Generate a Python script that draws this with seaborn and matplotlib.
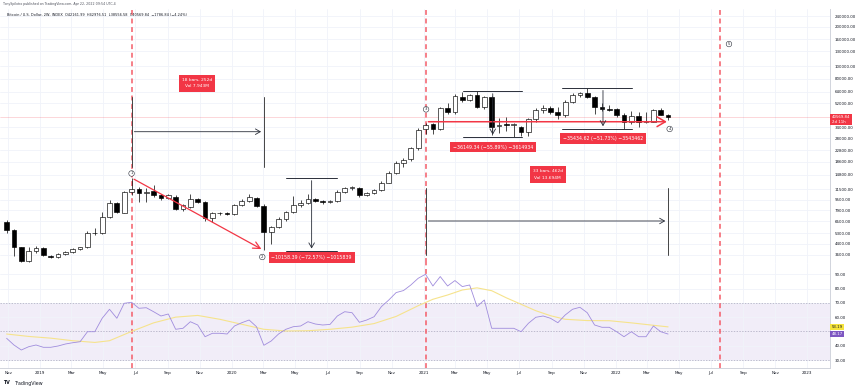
import matplotlib
matplotlib.use('Agg')
import matplotlib.pyplot as plt
import matplotlib.dates as mdates
from matplotlib.ticker import FixedLocator, NullLocator
import pandas as pd
import seaborn as sns

# 2W candles of INDEX BTCUSD
bar_start = '2018-10-29'
opens = [6470, 5590, 4121, 3257, 3860, 4050, 3540, 3470, 3660, 3810,
         3980, 4160, 5273, 5300, 7063, 8946, 7580, 10972, 11506, 10667,
         11200, 10350, 9770, 10047, 8089, 8425, 9598, 9152, 6873, 7503,
         7580, 7400, 8679, 9300, 9770, 8500, 5425, 5862, 6750, 7716,
         8679, 8946, 9598, 9250, 9150, 9300, 10972, 11650, 11650, 10350,
         10800, 11300, 12860, 15330, 18300, 19410, 23560, 32900, 35900, 32900,
         48130, 44960, 58600, 55600, 60200, 48960, 57800, 34700, 35700, 35500,
         34450, 31550, 39250, 46218, 48130, 44900, 42324, 53540, 60185, 61900,
         58400, 48960, 47000, 47000, 42700, 37600, 41500, 37100, 37600, 46218,
         42161.99]
highs = [6650, 5650, 4170, 4121, 4200, 4150, 3600, 3700, 3880, 4100,
         4150, 5490, 5760, 7716, 9478, 9100, 11200, 13998, 11900, 11700,
         12343, 10500, 10600, 10300, 8800, 10480, 9800, 9300, 7716, 7700,
         7700, 8800, 9600, 10480, 10000, 8800, 6000, 7000, 7800, 10150,
         9400, 10480, 9800, 9400, 9500, 11300, 12000, 12100, 12000, 11000,
         11500, 13200, 15800, 18900, 19900, 24200, 33500, 37000, 37000, 49000,
         52000, 61000, 63600, 61500, 64679, 59500, 59500, 40000, 41000, 36500,
         35000, 40500, 48000, 50500, 50000, 48800, 55000, 62900, 64000, 68497,
         59000, 51900, 50471, 47900, 44000, 45500, 44500, 45000, 46800, 48200,
         42976.51]
lows = [5270, 3537, 3180, 3200, 3750, 3550, 3420, 3400, 3620, 3760,
        3900, 4100, 5120, 5200, 6900, 7500, 7500, 10300, 9084, 9084,
        10000, 9500, 9600, 7900, 7800, 8300, 9000, 6500, 6450, 7300,
        7250, 7300, 8500, 9100, 8400, 3900, 4400, 5800, 6600, 7600,
        8400, 8800, 9200, 8900, 9000, 9100, 10700, 11300, 10000, 10200,
        10600, 11200, 12800, 15100, 16900, 19000, 23000, 30500, 30500, 32300,
        43000, 43000, 53000, 54000, 47500, 47000, 30000, 31000, 32000, 28530,
        29300, 29500, 37500, 44000, 42900, 39600, 41000, 52000, 58000, 57000,
        43000, 45600, 45500, 41000, 33064, 36300, 34300, 37000, 37200, 42000,
        38556.58]
closes = [5590, 4166, 3257, 3883, 4095, 3600, 3470, 3660, 3810, 3980,
          4120, 5273, 5300, 7063, 8946, 7716, 10972, 11506, 10667, 10972,
          10350, 9770, 10350, 8089, 8679, 9598, 9152, 6873, 7503, 7580,
          7400, 8679, 9364, 9942, 8575, 5425, 5862, 6750, 7716, 8679,
          8946, 9598, 9364, 9100, 9300, 10972, 11650, 11900, 10350, 10800,
          11300, 12860, 15330, 18300, 19167, 23560, 32502, 35492, 32900, 48130,
          44960, 59400, 55500, 60200, 48960, 58400, 34450, 35600, 35500, 35900,
          31550, 39250, 46218, 48130, 44960, 42324, 53540, 60185, 62700, 58400,
          48960, 47000, 46300, 42700, 37600, 41500, 37100, 37800, 46218, 42324,
          40569.84]

# RSI(14) per bar and its moving average (read at a subset of bars)
rsi = [45.2, 40.5, 37.0, 39.3, 40.5, 38.9, 38.9, 39.8, 41.2, 42.1,
       42.8, 49.8, 49.8, 59.2, 65.5, 59.2, 69.7, 70.4, 66.2, 66.6,
       63.8, 60.8, 62.2, 51.5, 52.2, 56.8, 54.5, 46.3, 48.7, 48.7,
       48.2, 53.8, 56.1, 58.0, 53.3, 40.3, 43.3, 48.2, 51.5, 53.3,
       53.8, 56.8, 55.2, 54.5, 54.9, 60.8, 63.8, 63.1, 56.4, 58.0,
       60.3, 67.4, 72.0, 77.2, 78.6, 82.5, 87.2, 90.0, 81.8, 88.4,
       81.8, 85.6, 81.4, 82.5, 67.4, 72.0, 52.2, 52.2, 52.2, 52.2,
       49.8, 55.7, 59.9, 60.8, 59.2, 56.1, 61.5, 65.5, 66.9, 63.1,
       54.5, 52.9, 52.9, 49.8, 46.3, 49.8, 46.3, 46.3, 53.8, 49.8,
       48.17]
ma_bars = [0, 3, 6, 9, 12, 14, 17, 20, 23, 26, 29, 32, 35, 38, 41, 44, 47, 50,
           53, 56, 58, 60, 62, 64, 66, 68, 70, 72, 74, 76, 79, 82, 85, 88, 90]
ma_vals = [48.2, 46.5, 45.3, 43.5, 42.3, 43.5, 50.0, 56.0, 60.0, 61.2, 58.5, 55.0,
           51.5, 50.3, 50.5, 51.5, 53.0, 55.5, 60.5, 68.0, 72.5, 75.5, 79.0, 80.5,
           78.5, 73.5, 69.0, 64.5, 61.0, 58.5, 57.6, 57.5, 56.0, 54.3, 53.19]

price_ticks = [240000, 200000, 160000, 130000, 100000, 80000, 64000, 52000,
               34000, 28000, 22800, 18600, 14800, 11500, 9500, 7900, 6500,
               5300, 4400, 3600]
rsi_ticks = [30, 40, 60, 70, 80, 90]
cycle_dates = ['2019-06-24', '2021-01-04', '2022-07-18']

sns.set_style('white')
plt.rcParams['font.family'] = ['DejaVu Sans']

red = '#F23645'
dark = '#2A2E39'
grid_c = '#F0F3FA'


def d(s):
    return mdates.datestr2num(s)


dates = pd.date_range(bar_start, periods=len(closes), freq='14D')
xd = mdates.date2num(dates)

fig = plt.figure(figsize=(8.6, 3.91), dpi=100)
ax = fig.add_axes([0, 0.3274, 0.9651, 0.6496])
ax2 = fig.add_axes([0, 0.0588, 0.9651, 0.2686], sharex=ax)

# ---- candles
body_lo = [min(o, c) for o, c in zip(opens, closes)]
body_h = [max(abs(c - o), 0.012 * min(o, c)) for o, c in zip(opens, closes)]
faces = ['white' if c >= o else 'black' for o, c in zip(opens, closes)]
ax.vlines(xd, lows, highs, color='black', lw=0.5, zorder=3)
ax.bar(xd, body_h, bottom=body_lo, width=9, color=faces, edgecolor='black',
       linewidth=0.45, zorder=4)

ax.set_yscale('log')
ax.set_ylim(3127, 273700)
x0 = d('2019-01-01')
ax.set_xlim(x0 - 76.6, x0 + 1504.4)

ax.yaxis.tick_right()
ax.yaxis.set_major_locator(FixedLocator(price_ticks))
ax.yaxis.set_minor_locator(NullLocator())
ax.set_yticklabels(['%.2f' % t for t in price_ticks])
ax.tick_params(axis='y', which='both', length=0, pad=3.5, labelsize=2.9,
               labelcolor='#131722')
ax.tick_params(axis='x', length=0, labelbottom=False)
ax.grid(True, color=grid_c, lw=0.6)
ax.set_axisbelow(True)

# time ticks every two months
months = pd.date_range('2018-11-01', '2023-01-01', freq='2MS')
tick_lbls = [str(m.year) if m.month == 1 else m.strftime('%b') for m in months]
ax2.set_xticks(mdates.date2num(months))
ax2.set_xticklabels(tick_lbls)
ax2.tick_params(axis='x', length=0, pad=2.5, labelsize=3, labelcolor='#131722')

for a in (ax, ax2):
    for s in ('top', 'left'):
        a.spines[s].set_visible(False)
    for s in ('right', 'bottom'):
        a.spines[s].set_color('#D1D4DC')
        a.spines[s].set_linewidth(0.7)

# cycle markers
for cyc in cycle_dates:
    for a in (ax, ax2):
        a.axvline(d(cyc), color='#F45C68', lw=1.1, ls=(0, (3.2, 2.4)), zorder=2)

# current price line + label
ax.axhline(closes[-1], color=red, lw=0.4, alpha=0.35, zorder=1)
ax.annotate('%.2f\n2d 11h' % closes[-1], xy=(1.0, closes[-1]),
            xycoords=('axes fraction', 'data'), xytext=(1.2, -1.6),
            textcoords='offset points', ha='left', va='center', fontsize=2.8,
            color='white', linespacing=1.3,
            bbox=dict(boxstyle='square,pad=0.35', fc=red, ec='none'))

# red trend arrow 1 -> 2
ax.annotate('', xy=(d('2020-03-02'), 3900), xytext=(d('2019-06-24'), 13998),
            arrowprops=dict(arrowstyle='->,head_length=0.5,head_width=0.25',
                            color=red, lw=0.9), zorder=5)
# red support line 3 -> 4
ax.annotate('', xy=(d('2022-04-14'), 37600), xytext=(d('2021-01-04'), 37600),
            arrowprops=dict(arrowstyle='->,head_length=0.6,head_width=0.35',
                            color=red, lw=1.1), zorder=5)

# price range tools
ranges = [
    ('2020-04-13', '2020-07-19', '2020-06-01', 13998, 3840, 3445,
     '\u221210158.39 (\u221272.57%) \u22121015839'),
    ('2021-03-17', '2021-07-06', '2021-05-12', 64679, 28530, 24090,
     '\u221236149.34 (\u221255.89%) \u22123614934'),
    ('2021-09-21', '2022-02-02', '2021-12-08', 68497, 33064, 27900,
     '\u221235434.62 (\u221251.73%) \u22123543462'),
]
for a0, a1, am, top, bot, ly, txt in ranges:
    ax.plot([d(a0), d(a1)], [top, top], color=dark, lw=0.7, zorder=5)
    ax.plot([d(a0), d(a1)], [bot, bot], color=dark, lw=0.7, zorder=5)
    ax.annotate('', xy=(d(am), bot), xytext=(d(am), top),
                arrowprops=dict(arrowstyle='->,head_length=0.35,head_width=0.2',
                                color=dark, lw=0.6), zorder=5)
    ax.text(d(am), ly, txt, ha='center', va='center', fontsize=3.4,
            color='white', zorder=6,
            bbox=dict(boxstyle='square,pad=0.6', fc=red, ec='none'))

# date range tools
dranges = [
    ('2019-06-24', '2020-03-02', 31550, 16950, 58400, '2019-10-27', 73800,
     '18 bars, 252d\nVol 7.943M'),
    ('2021-01-04', '2022-04-11', 6550, 3600, 11650, '2021-08-25', 14850,
     '33 bars, 462d\nVol 13.694M'),
]
for a0, a1, yy, vlo, vhi, lx, ly, txt in dranges:
    ax.plot([d(a0), d(a0)], [vlo, vhi], color='#444', lw=0.7, zorder=5)
    ax.plot([d(a1), d(a1)], [vlo, vhi], color='#444', lw=0.7, zorder=5)
    ax.annotate('', xy=(d(a1), yy), xytext=(d(a0), yy),
                arrowprops=dict(arrowstyle='->,head_length=0.35,head_width=0.2',
                                color=dark, lw=0.6), zorder=5)
    ax.text(d(lx), ly, txt, ha='center', va='center', fontsize=3.2,
            color='white', linespacing=1.7, zorder=6,
            bbox=dict(boxstyle='square,pad=0.7', fc=red, ec='none'))

# circled wave numbers
for num, ds, py in [('1', '2019-06-24', 15120), ('2', '2020-02-28', 3475),
                    ('3', '2021-01-05', 46760), ('4', '2022-04-14', 33100),
                    ('5', '2022-08-05', 147700)]:
    ax.text(d(ds), py, num, ha='center', va='center', fontsize=2.8,
            color=dark, zorder=7,
            bbox=dict(boxstyle='circle,pad=0.2', fc='white', ec=dark, lw=0.4))

# ---- RSI panel
ax2.axhspan(30, 70, color='#7E57C2', alpha=0.1, lw=0, zorder=0)
for lv in (30, 50, 70):
    ax2.axhline(lv, color='#A9A6BC', lw=0.5, ls=(0, (2, 2)), zorder=1)
sns.lineplot(x=xd, y=rsi, ax=ax2, color='#A08CDD', lw=0.6, zorder=3)
sns.lineplot(x=xd[ma_bars], y=ma_vals, ax=ax2, color='#F6E38C', lw=0.8, zorder=2)
ax2.set_ylim(24.4, 97.9)
ax2.yaxis.tick_right()
ax2.set_yticks(rsi_ticks)
ax2.set_yticklabels(['%.2f' % t for t in rsi_ticks])
ax2.tick_params(axis='y', length=0, pad=3.5, labelsize=2.9, labelcolor='#131722')
ax2.grid(True, color=grid_c, lw=0.6)
ax2.set_axisbelow(True)
ax2.set_xlabel('')
ax2.set_ylabel('')

for val, fc, tc, dy in [(ma_vals[-1], '#F5E33C', '#131722', 0), (rsi[-1], '#7E57C2', 'white', 0)]:
    ax2.annotate('%.2f' % val, xy=(1.0, val), xycoords=('axes fraction', 'data'),
                 xytext=(1.2, dy), textcoords='offset points', ha='left',
                 va='center', fontsize=2.8, color=tc,
                 bbox=dict(boxstyle='square,pad=0.35', fc=fc, ec='none'))

# header and footer
fig.text(0.004, 1 - 4.5 / 391, 'TonySpilotro published on TradingView.com, Apr 22, 2022 09:54 UTC-4',
         fontsize=2.3, color='#50535E', va='center')
fig.text(0.008, 1 - 15.5 / 391,
         'Bitcoin / U.S. Dollar, 2W, INDEX  O42161.99  H42976.51  L38556.58  '
         'C40569.84  \u22121786.84 (\u22124.24%)',
         fontsize=2.5, color='#131722', va='center')
fig.text(0.004, 1 - 383 / 391, 'TV', fontsize=3.4, weight='bold', color='#131722', va='center')
fig.text(0.017, 1 - 383 / 391, 'TradingView', fontsize=3.4, color='#131722', va='center')

fig.savefig('out.png', dpi=100, facecolor='white')
